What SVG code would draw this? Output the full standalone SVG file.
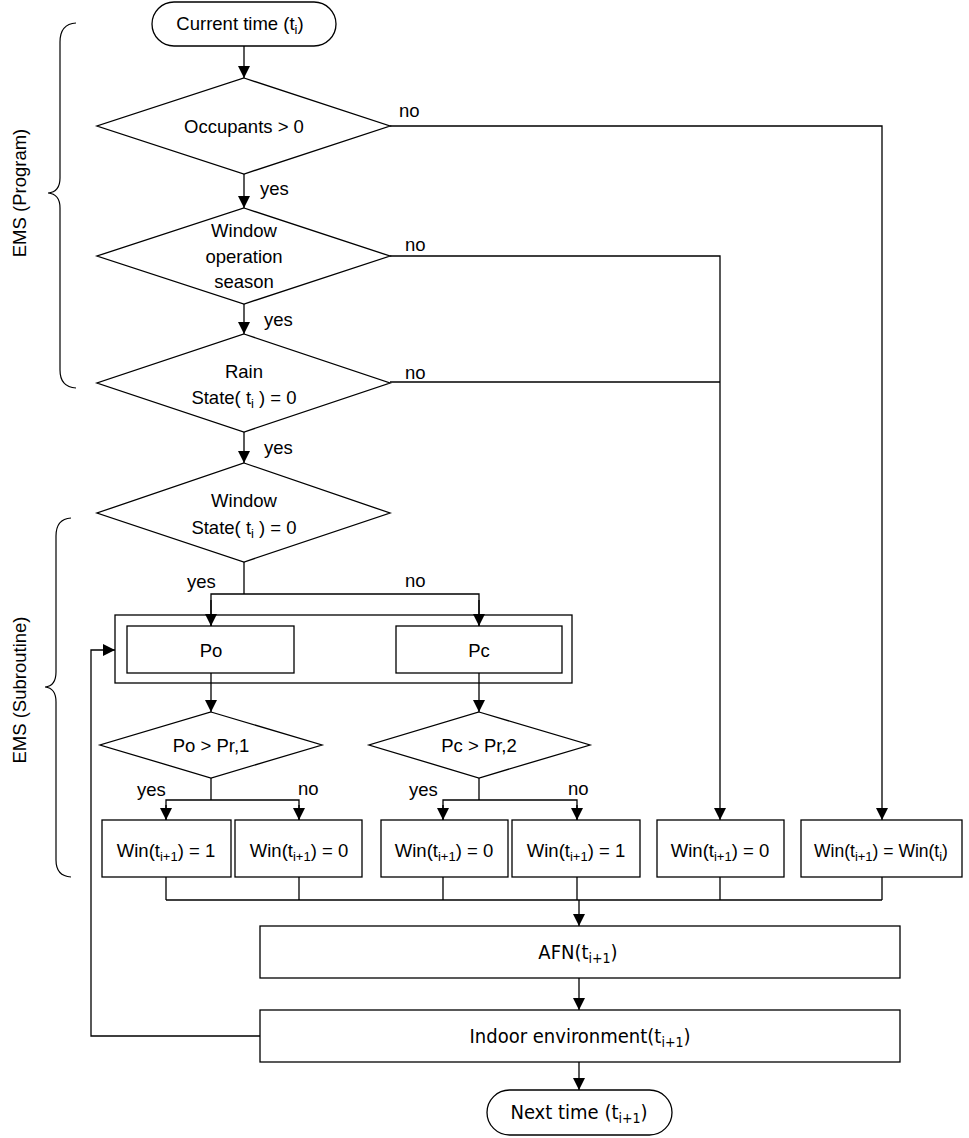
<svg xmlns="http://www.w3.org/2000/svg" width="969" height="1138" viewBox="0 0 969 1138">
<style>
.s{fill:#fff;stroke:#000;stroke-width:1.3}
.c{fill:none;stroke:#000;stroke-width:1.3}
.br{fill:none;stroke:#000;stroke-width:1.2}
text{font-family:"Liberation Sans",Arial,sans-serif;font-size:18.5px;fill:#000}
.m{text-anchor:middle}
.sb{font-size:13px}
.n{font-family:"Liberation Sans Narrow","DejaVu Sans Condensed","Liberation Sans",sans-serif;font-size:20px}
.n .sb{font-size:14px}
</style>
<defs>
<marker id="ah" markerUnits="userSpaceOnUse" markerWidth="12" markerHeight="12" refX="12" refY="6" orient="auto">
<path d="M0,0 L12,6 L0,12 z" fill="#000"/>
</marker>
</defs>

<g id="braces">
<path class="br" d="M76,23 Q60,24 60,42 L60,178 Q60,192 48,193 Q60,194 60,208 L60,370 Q60,387 76,388"/>
<text class="m" transform="translate(26,193) rotate(-90)">EMS  (Program)</text>
<path class="br" d="M71,518 Q56,519 56,536 L56,672 Q56,686 45,687 Q56,688 56,702 L56,860 Q56,876 71,877"/>
<text class="m" transform="translate(26,690) rotate(-90)">EMS  (Subroutine)</text>
</g>

<g id="start">
<rect class="s" x="152" y="2" width="184" height="44" rx="22"/>
<text class="m" x="240" y="30">Current time (t<tspan class="sb" dy="4">i</tspan><tspan dy="-4">)</tspan></text>
</g>

<g id="d_occ">
<polygon class="s" points="244,78 390,126 244,174 97,126"/>
<text class="m" x="244" y="133">Occupants &gt; 0</text>
</g>

<g id="d_season">
<polygon class="s" points="244,208 390,256 244,304 97,256"/>
<text class="m" x="244" y="237">Window</text>
<text class="m" x="244" y="263">operation</text>
<text class="m" x="244" y="288">season</text>
</g>

<g id="d_rain">
<polygon class="s" points="244,334 390,383 244,432 97,383"/>
<text class="m" x="244" y="378">Rain</text>
<text class="m" x="244" y="404">State( t<tspan class="sb" dy="4">i</tspan><tspan dy="-4"> )  = 0</tspan></text>
</g>

<g id="d_window">
<polygon class="s" points="244,463 390,513 244,562 97,513"/>
<text class="m" x="244" y="507">Window</text>
<text class="m" x="244" y="534">State( t<tspan class="sb" dy="4">i</tspan><tspan dy="-4"> )  = 0</tspan></text>
</g>

<g id="prob">
<rect class="s" x="115" y="615" width="457" height="68"/>
</g>
<g id="po">
<rect class="s" x="127" y="626" width="167" height="47"/>
<text class="m" x="211" y="657">Po</text>
</g>
<g id="pc">
<rect class="s" x="396" y="626" width="166" height="47"/>
<text class="m" x="479" y="657">Pc</text>
</g>

<g id="d_po">
<polygon class="s" points="211,712 322,745 211,778 100,745"/>
<text class="m" x="211" y="752">Po &gt; Pr,1</text>
</g>
<g id="d_pc">
<polygon class="s" points="479,712 590,745 479,778 369,745"/>
<text class="m" x="479" y="752">Pc &gt; Pr,2</text>
</g>

<g id="w1">
<rect class="s" x="102" y="820" width="129" height="57"/>
<text class="m" x="166" y="857">Win(t<tspan class="sb" dy="4">i+1</tspan><tspan dy="-4">) = 1</tspan></text>
</g>
<g id="w2">
<rect class="s" x="235" y="820" width="127" height="57"/>
<text class="m" x="299" y="857">Win(t<tspan class="sb" dy="4">i+1</tspan><tspan dy="-4">) = 0</tspan></text>
</g>
<g id="w3">
<rect class="s" x="381" y="820" width="127" height="57"/>
<text class="m" x="444" y="857">Win(t<tspan class="sb" dy="4">i+1</tspan><tspan dy="-4">) = 0</tspan></text>
</g>
<g id="w4">
<rect class="s" x="512" y="820" width="128" height="57"/>
<text class="m" x="576" y="857">Win(t<tspan class="sb" dy="4">i+1</tspan><tspan dy="-4">) = 1</tspan></text>
</g>
<g id="w5">
<rect class="s" x="657" y="820" width="127" height="57"/>
<text class="m" x="720" y="857">Win(t<tspan class="sb" dy="4">i+1</tspan><tspan dy="-4">) = 0</tspan></text>
</g>
<g id="w6">
<rect class="s" x="801" y="820" width="161" height="57"/>
<text class="m" x="881" y="857" style="font-size:17.5px">Win(t<tspan class="sb" dy="4">i+1</tspan><tspan dy="-4">) = Win(t</tspan><tspan class="sb" dy="4">i</tspan><tspan dy="-4">)</tspan></text>
</g>

<g id="afn">
<rect class="s" x="260" y="926" width="640" height="52"/>
<text class="m n" x="578" y="959">AFN(t<tspan class="sb" dy="4">i+1</tspan><tspan dy="-4">)</tspan></text>
</g>
<g id="indoor">
<rect class="s" x="260" y="1010" width="640" height="52"/>
<text class="m n" x="580" y="1043">Indoor environment(t<tspan class="sb" dy="4">i+1</tspan><tspan dy="-4">)</tspan></text>
</g>
<g id="end">
<rect class="s" x="487" y="1090" width="185" height="45" rx="22.5"/>
<text class="m n" x="579" y="1119">Next time (t<tspan class="sb" dy="4">i+1</tspan><tspan dy="-4">)</tspan></text>
</g>

<g id="connectors">
<line class="c" x1="244" y1="46" x2="244" y2="78" marker-end="url(#ah)"/>
<polyline class="c" points="390,126 882,126 882,820" marker-end="url(#ah)"/>
<line class="c" x1="244" y1="174" x2="244" y2="208" marker-end="url(#ah)"/>
<polyline class="c" points="390,256 720,256 720,820" marker-end="url(#ah)"/>
<line class="c" x1="390" y1="382" x2="720" y2="382"/>
<line class="c" x1="244" y1="304" x2="244" y2="334" marker-end="url(#ah)"/>
<line class="c" x1="244" y1="432" x2="244" y2="463" marker-end="url(#ah)"/>
<line class="c" x1="244" y1="562" x2="244" y2="594"/>
<polyline class="c" points="211,626 211,594 479,594 479,626"/>
<line class="c" x1="211" y1="600" x2="211" y2="626" marker-end="url(#ah)"/>
<line class="c" x1="479" y1="600" x2="479" y2="626" marker-end="url(#ah)"/>
<polyline class="c" points="260,1036 91,1036 91,650 115,650" marker-end="url(#ah)"/>
<line class="c" x1="211" y1="673" x2="211" y2="712" marker-end="url(#ah)"/>
<line class="c" x1="479" y1="673" x2="479" y2="712" marker-end="url(#ah)"/>
<line class="c" x1="211" y1="778" x2="211" y2="800"/>
<polyline class="c" points="166,820 166,800 299,800 299,820"/>
<line class="c" x1="166" y1="805" x2="166" y2="820" marker-end="url(#ah)"/>
<line class="c" x1="299" y1="805" x2="299" y2="820" marker-end="url(#ah)"/>
<line class="c" x1="479" y1="778" x2="479" y2="800"/>
<polyline class="c" points="443,820 443,800 577,800 577,820"/>
<line class="c" x1="443" y1="805" x2="443" y2="820" marker-end="url(#ah)"/>
<line class="c" x1="577" y1="805" x2="577" y2="820" marker-end="url(#ah)"/>
<line class="c" x1="166" y1="877" x2="166" y2="900"/>
<line class="c" x1="299" y1="877" x2="299" y2="900"/>
<line class="c" x1="443" y1="877" x2="443" y2="900"/>
<line class="c" x1="577" y1="877" x2="577" y2="900"/>
<line class="c" x1="720" y1="877" x2="720" y2="900"/>
<line class="c" x1="882" y1="877" x2="882" y2="900"/>
<line class="c" x1="166" y1="900" x2="882" y2="900"/>
<line class="c" x1="579" y1="900" x2="579" y2="926" marker-end="url(#ah)"/>
<line class="c" x1="579" y1="978" x2="579" y2="1010" marker-end="url(#ah)"/>
<line class="c" x1="579" y1="1062" x2="579" y2="1090" marker-end="url(#ah)"/>
<text x="399" y="117">no</text>
<text x="260" y="195">yes</text>
<text x="405" y="251">no</text>
<text x="264" y="326">yes</text>
<text x="405" y="379">no</text>
<text x="264" y="454">yes</text>
<text x="187" y="588">yes</text>
<text x="405" y="587">no</text>
<text x="137" y="796">yes</text>
<text x="298" y="795">no</text>
<text x="409" y="796">yes</text>
<text x="568" y="795">no</text>
</g>
</svg>
